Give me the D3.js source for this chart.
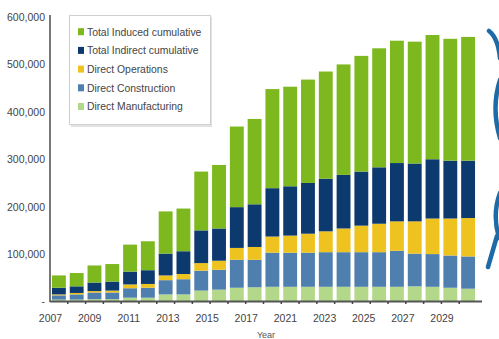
<!DOCTYPE html>
<html><head><meta charset="utf-8">
<script src="https://cdn.jsdelivr.net/npm/d3@7"></script>
<style>body{margin:0;background:#fff}svg{display:block}</style>
</head><body>
<svg id="c" width="499" height="339"></svg>
<script>
// ---- data (thousands of jobs) ----
const years = ["2007","2008","2009","2010","2011","2012","2013","2014","2015","2016","2017","2020",
  "2021","2022","2023","2024","2025","2026","2027","2028","2029","2030","2031","2032"];
const tickLabels = ["2007","2009","2011","2013","2015","2017","2021","2023","2025","2027","2029"];
const yTicks = [0,100000,200000,300000,400000,500000,600000];
const seriesNames = ["Direct Manufacturing","Direct Construction","Direct Operations","Total Indirect cumulative","Total Induced cumulative"];
const directManufacturing = [4,4,5,5,8,8,15,15,23,25,29,30,31,31,31,31,31,31,31,31,32,31,29,27];
const directConstruction  = [9,11,14,14,20,21,30,32,42,42,59,58,72,72,72,73,73,73,73,76,69,69,68,68];
const directOperations    = [2,3,3,4,8,8,10,11,16,19,25,27,34,36,40,44,50,56,60,62,68,75,78,81];
const totalIndirect       = [14,14,18,19,27,29,46,48,69,68,86,90,102,104,107,111,113,114,119,123,122,125,122,121];
const totalInduced        = [26,28,36,37,57,61,89,90,124,134,170,180,209,210,218,226,233,244,251,258,257,262,257,261];
const seriesValues = [directManufacturing,directConstruction,directOperations,totalIndirect,totalInduced];
const colors = ["#b3d88a","#4f7fae","#efc31f","#0c3a6f","#7cb81e"];
const legendOrder = [4,3,2,1,0];

// ---- build table ----
const rows = years.map((y,i)=>{const r={year:y}; seriesNames.forEach((s,k)=>r[s]=seriesValues[k][i]*1000); return r;});
const stacked = d3.stack().keys(seriesNames)(rows);

const svg = d3.select("#c");
const x = d3.scaleBand().domain(years).range([50,477]).paddingInner(0.22).paddingOuter(0.11);
const y = d3.scaleLinear().domain([0,600000]).range([301.5,17]);
const xl = d3.scalePoint().domain(tickLabels).range([50,441.5]);
const font = "Liberation Sans, Arial, sans-serif";

// bars
svg.append("g").selectAll("g").data(stacked).join("g")
  .attr("fill",(d,i)=>colors[i])
  .selectAll("rect").data(d=>d).join("rect")
  .attr("x",d=>x(d.data.year)).attr("width",x.bandwidth())
  .attr("y",d=>y(d[1])).attr("height",d=>y(d[0])-y(d[1]));

// y axis
const ya = svg.append("g").attr("transform","translate(50,0)")
  .call(d3.axisLeft(y).tickValues(yTicks).tickSize(0).tickPadding(5)
    .tickFormat(v=>v===0?"-":d3.format(",")(v)));
ya.select(".domain").attr("stroke","#555").attr("stroke-width",1.6).attr("d","M0,15V302");
ya.selectAll("text").attr("font-family",font).attr("font-size","10.5px").attr("fill","#444");

// x axis line and ticks at band edges
const step = x.step();
svg.append("line").attr("x1",50).attr("x2",482).attr("y1",301.5).attr("y2",301.5)
  .attr("stroke","#555").attr("stroke-width",1.8);
svg.append("g").selectAll("line").data(years.slice(1)).join("line")
  .attr("x1",d=>x(d)-step*x.paddingInner()/2).attr("x2",d=>x(d)-step*x.paddingInner()/2)
  .attr("y1",301.5).attr("y2",304).attr("stroke","#444").attr("stroke-width",1.5);

// x tick labels
const xa = svg.append("g").attr("transform","translate(0,309)")
  .call(d3.axisBottom(xl).tickSize(0).tickPadding(6));
xa.select(".domain").remove();
xa.selectAll("text").attr("font-family",font).attr("font-size","10.5px").attr("fill","#444");
svg.append("text").attr("x",266).attr("y",338).attr("text-anchor","middle")
  .attr("font-family",font).attr("font-size","9px").attr("fill","#555").text("Year");

// legend
const lg = svg.append("g");
lg.append("rect").attr("x",71).attr("y",17).attr("width",141).attr("height",110).attr("fill","#e2e2e2");
lg.append("rect").attr("x",69.5).attr("y",15.5).attr("width",141).attr("height",109)
  .attr("fill","#fff").attr("stroke","#cfcfcf");
const li = lg.selectAll("g.li").data(legendOrder).join("g").attr("class","li")
  .attr("transform",(d,i)=>`translate(78,${31.7+i*18.7})`);
li.append("rect").attr("x",0).attr("y",-3.5).attr("width",6).attr("height",7).attr("fill",d=>colors[d]);
li.append("text").attr("x",9).attr("y",3.8).attr("font-family",font).attr("font-size","10.4px")
  .attr("fill","#444").text(d=>seriesNames[d]);

// decorative blue strokes at right edge
const deco = ["M489,31 Q498,38 500,58","M500,80 Q491,108 500,138","M500,193 Q492,214 499,238","M497,236 L488,267"];
svg.append("g").selectAll("path").data(deco).join("path").attr("d",d=>d)
  .attr("fill","none").attr("stroke","#1d6aa6").attr("stroke-width",4.5).attr("stroke-linecap","round");
</script>
</body></html>
